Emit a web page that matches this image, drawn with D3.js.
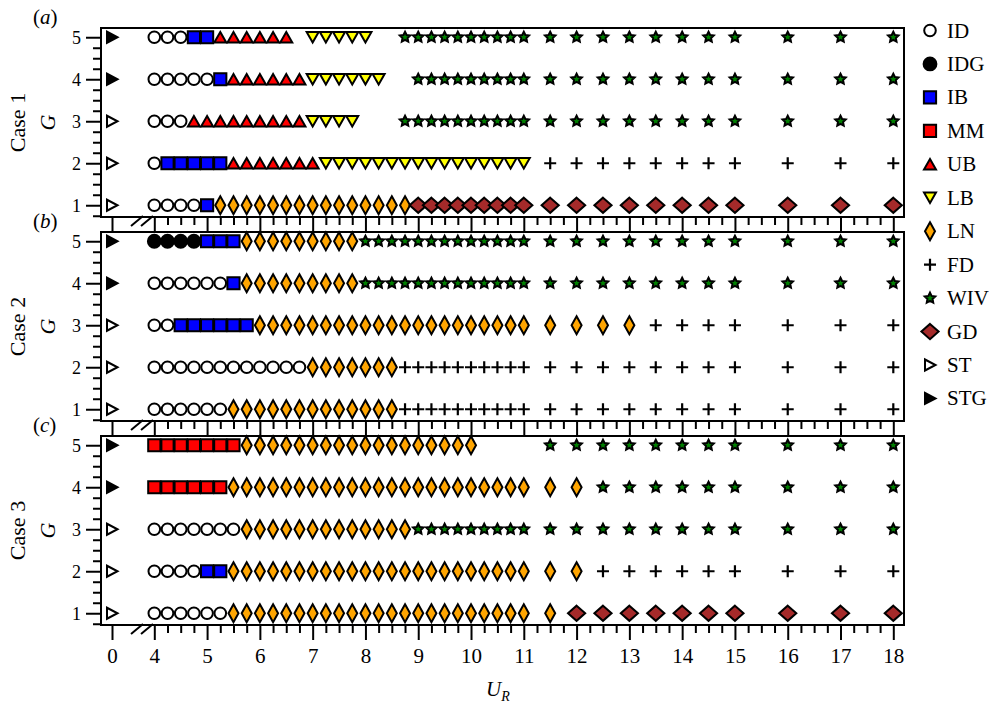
<!DOCTYPE html>
<html>
<head>
<meta charset="utf-8">
<script src="https://cdn.jsdelivr.net/npm/d3@7"></script>
<style>
  body { margin: 0; background: #fff; }
  text { font-family: "Liberation Serif", "Times New Roman", Times, "Nimbus Roman", serif; fill: #000; }
</style>
</head>
<body>
<div id="chart"></div>
<script>
// U_R values that were run (0 is the stationary reference on the left)
const urValues = [0, 4, 4.25, 4.5, 4.75, 5, 5.25, 5.5, 5.75, 6, 6.25, 6.5, 6.75, 7, 7.25, 7.5, 7.75,
  8, 8.25, 8.5, 8.75, 9, 9.25, 9.5, 9.75, 10, 10.25, 10.5, 10.75, 11,
  11.5, 12, 12.5, 13, 13.5, 14, 14.5, 15, 16, 17, 18];
const gValues = [5, 4, 3, 2, 1];
const caseNames = ["Case 1", "Case 2", "Case 3"];
const panelTags = ["a", "b", "c"];
const regimes = ["ID", "IDG", "IB", "MM", "UB", "LB", "LN", "FD", "WIV", "GD", "ST", "STG"];
const xTicks = [0, 4, 5, 6, 7, 8, 9, 10, 11, 12, 13, 14, 15, 16, 17, 18];
const yTicks = [1, 2, 3, 4, 5];

// one row per G (5 down to 1): [regime, first U_R, last U_R]
const case1 = [
  [["STG", 0, 0], ["ID", 4, 4.5], ["IB", 4.75, 5], ["UB", 5.25, 6.5], ["LB", 7, 8], ["WIV", 8.75, 18]],
  [["STG", 0, 0], ["ID", 4, 5], ["IB", 5.25, 5.25], ["UB", 5.5, 6.75], ["LB", 7, 8.25], ["WIV", 9, 18]],
  [["ST", 0, 0], ["ID", 4, 4.5], ["UB", 4.75, 6.75], ["LB", 7, 7.75], ["WIV", 8.75, 18]],
  [["ST", 0, 0], ["ID", 4, 4], ["IB", 4.25, 5.25], ["UB", 5.5, 7], ["LB", 7.25, 11], ["FD", 11.5, 18]],
  [["ST", 0, 0], ["ID", 4, 4.75], ["IB", 5, 5], ["LN", 5.25, 8.75], ["GD", 9, 18]]
];
const case2 = [
  [["STG", 0, 0], ["IDG", 4, 4.75], ["IB", 5, 5.5], ["LN", 5.75, 7.75], ["WIV", 8, 18]],
  [["STG", 0, 0], ["ID", 4, 5.25], ["IB", 5.5, 5.5], ["LN", 5.75, 7.75], ["WIV", 8, 18]],
  [["ST", 0, 0], ["ID", 4, 4.25], ["IB", 4.5, 5.75], ["LN", 6, 13], ["FD", 13.5, 18]],
  [["ST", 0, 0], ["ID", 4, 6.75], ["LN", 7, 8.5], ["FD", 8.75, 18]],
  [["ST", 0, 0], ["ID", 4, 5.25], ["LN", 5.5, 8.5], ["FD", 8.75, 18]]
];
const case3 = [
  [["STG", 0, 0], ["MM", 4, 5.5], ["LN", 5.75, 10], ["WIV", 11.5, 18]],
  [["STG", 0, 0], ["MM", 4, 5.25], ["LN", 5.5, 12], ["WIV", 12.5, 18]],
  [["ST", 0, 0], ["ID", 4, 5.5], ["LN", 5.75, 8.75], ["WIV", 9, 18]],
  [["ST", 0, 0], ["ID", 4, 4.75], ["IB", 5, 5.25], ["LN", 5.5, 12], ["FD", 12.5, 18]],
  [["ST", 0, 0], ["ID", 4, 5.25], ["LN", 5.5, 11.5], ["GD", 12, 18]]
];
const cases = [case1, case2, case3];

// marker shapes
const circle = r => `M${r},0A${r},${r} 0 1,1 ${-r},0A${r},${r} 0 1,1 ${r},0Z`;
const square = h => `M${-h},${-h}H${h}V${h}H${-h}Z`;
const star = (ro, ri) => {
  const p = d3.path();
  for (let i = 0; i < 10; i++) {
    const r = i % 2 ? ri : ro, a = -Math.PI / 2 + i * Math.PI / 5;
    i ? p.lineTo(r * Math.cos(a), r * Math.sin(a)) : p.moveTo(r * Math.cos(a), r * Math.sin(a));
  }
  p.closePath();
  return p.toString();
};
const markers = {
  ID:  { d: circle(5.8), fill: "#fff" },
  IDG: { d: circle(6.4), fill: "#000" },
  IB:  { d: square(6.1), fill: "#0000ff" },
  MM:  { d: square(6.1), fill: "#ff0000" },
  UB:  { d: "M0,-5.3L6,5.3L-6,5.3Z", fill: "#ff0000" },
  LB:  { d: "M0,5.3L6,-5.3L-6,-5.3Z", fill: "#ffff00" },
  LN:  { d: "M0,-9L5,0L0,9L-5,0Z", fill: "#ffa500" },
  FD:  { d: "M-6,0H6M0,-6V6", fill: "none", sw: 2.2 },
  WIV: { d: star(5.5, 2.7), fill: "#008000", sw: 2 },
  GD:  { d: "M0,-7.6L8.6,0L0,7.6L-8.6,0Z", fill: "#a52a2a" },
  ST:  { d: "M-5,-5.5L5.5,0L-5,5.5Z", fill: "#fff" },
  STG: { d: "M-5,-5.5L5.5,0L-5,5.5Z", fill: "#000" }
};

const width = 989, height = 709;
const frameL = 101, frameR = 904;
const panelTop = 28, panelH = 189, panelStep = 204;

const svg = d3.select("#chart").append("svg")
  .attr("width", width)
  .attr("height", height);

// broken x axis: 0 sits just inside the frame, then 4..18
const x = d3.scaleLinear().domain([0, 4, 18]).range([112, 154.3, 893.3]);
const minorX = d3.range(4.25, 18, 0.25).filter(v => v % 1 !== 0);
const minorY = d3.range(0.75, 5.01, 0.25).filter(v => v % 1 !== 0);

function drawMarker(g, type, px, py) {
  const m = markers[type];
  g.append("path")
    .attr("d", m.d)
    .attr("transform", `translate(${px},${py})`)
    .attr("fill", m.fill)
    .attr("stroke", "#000")
    .attr("stroke-width", m.sw || 2)
    .attr("stroke-linejoin", "miter");
}

cases.forEach((rows, ci) => {
  const top = panelTop + ci * panelStep;
  const y = d3.scaleLinear().domain([0.72, 5.22]).range([top + panelH, top]);
  const g = svg.append("g");

  // regime markers
  rows.forEach((runs, ri) => {
    runs.forEach(([type, from, to]) => {
      urValues.filter(u => u >= from && u <= to)
        .forEach(u => drawMarker(g, type, x(u), y(gValues[ri])));
    });
  });

  // y axis (major + minor)
  const yAx = g.append("g").attr("transform", `translate(${frameL},0)`)
    .call(d3.axisLeft(y).tickValues(yTicks).tickSize(15).tickPadding(5).tickFormat(d3.format("d")));
  g.append("g").attr("transform", `translate(${frameL},0)`)
    .call(d3.axisLeft(y).tickValues(minorY).tickSize(8).tickFormat(""));

  // x axis (major + minor), labels on the bottom panel only
  const xAx = g.append("g").attr("transform", `translate(0,${top + panelH})`)
    .call(d3.axisBottom(x).tickValues(xTicks).tickSize(15).tickPadding(8)
      .tickFormat(ci === 2 ? d3.format("d") : ""));
  g.append("g").attr("transform", `translate(0,${top + panelH})`)
    .call(d3.axisBottom(x).tickValues(minorX).tickSize(8).tickFormat(""));

  g.selectAll(".domain").remove();
  g.selectAll(".tick line").attr("stroke-width", 2);
  g.selectAll("g").attr("font-family", null);
  yAx.selectAll("text").attr("font-size", 18);
  xAx.selectAll("text").attr("font-size", 21);

  // frame
  g.append("rect")
    .attr("x", frameL).attr("y", top)
    .attr("width", frameR - frameL).attr("height", panelH)
    .attr("fill", "none").attr("stroke", "#000").attr("stroke-width", 2);

  // axis break marks
  const b = top + panelH;
  [0, 10].forEach(off => {
    g.append("line")
      .attr("x1", 131 + off).attr("y1", b + 9)
      .attr("x2", 143 + off).attr("y2", b - 1)
      .attr("stroke", "#000").attr("stroke-width", 2);
  });

  // panel tag
  const tag = g.append("text").attr("x", 33).attr("y", top - 4).attr("font-size", 21);
  tag.append("tspan").text("(");
  tag.append("tspan").attr("font-style", "italic").text(panelTags[ci]);
  tag.append("tspan").text(")");

  // y titles
  const cy = top + panelH / 2;
  g.append("text")
    .attr("transform", `translate(25,${cy}) rotate(-90)`)
    .attr("text-anchor", "middle").attr("font-size", 22)
    .text(caseNames[ci]);
  g.append("text")
    .attr("transform", `translate(55,${cy}) rotate(-90)`)
    .attr("text-anchor", "middle").attr("font-size", 22).attr("font-style", "italic")
    .text("G");
});

// x title
const xt = svg.append("text").attr("x", 486).attr("y", 696).attr("font-size", 21).attr("font-style", "italic");
xt.append("tspan").text("U");
xt.append("tspan").attr("font-size", 14).attr("dy", 5).text("R");

// legend
const legend = svg.append("g");
regimes.forEach((r, i) => {
  const ly = 30.5 + i * 33.45;
  drawMarker(legend, r, 930, ly);
  legend.append("text")
    .attr("x", 947).attr("y", ly + 7)
    .attr("font-size", 21)
    .text(r);
});
</script>
</body>
</html>
